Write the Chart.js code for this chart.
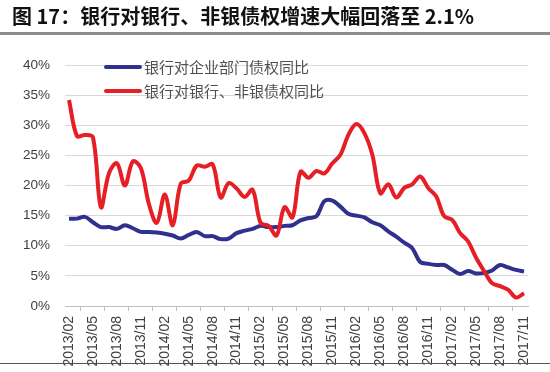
<!DOCTYPE html>
<html>
<head>
<meta charset="utf-8">
<script src="https://cdn.jsdelivr.net/npm/chart.js@4.4.1/dist/chart.umd.min.js"></script>
<style>
    body { margin: 0; background: #fff; }
    #wrap { position: relative; width: 550px; height: 372px; overflow: hidden; }
    #title {
        position: absolute; left: 12px; top: 6px;
        font: bold 20px "Noto Sans CJK SC", sans-serif; line-height: 20px;
        color: #111; white-space: nowrap;
    }
    #rule { position: absolute; left: 0; top: 32px; width: 550px; height: 3px; background: #8c8c8c; }
    #foot { position: absolute; left: 0; top: 363px; width: 550px; height: 1px; background: #555; }
    canvas { position: absolute; left: 0; top: 0; }
</style>
</head>
<body>
<div id="wrap">
    <canvas id="chart" width="550" height="372"></canvas>
    <div id="title">图 17：银行对银行、非银债权增速大幅回落至 2.1%</div>
    <div id="rule"></div>
    <div id="foot"></div>
</div>
<script>
// monthly, 2013/02 .. 2017/11
const months = [
    '2013/02', '2013/03', '2013/04', '2013/05', '2013/06', '2013/07', '2013/08', '2013/09', '2013/10', '2013/11', '2013/12',
    '2014/01', '2014/02', '2014/03', '2014/04', '2014/05', '2014/06', '2014/07', '2014/08', '2014/09', '2014/10', '2014/11', '2014/12',
    '2015/01', '2015/02', '2015/03', '2015/04', '2015/05', '2015/06', '2015/07', '2015/08', '2015/09', '2015/10', '2015/11', '2015/12',
    '2016/01', '2016/02', '2016/03', '2016/04', '2016/05', '2016/06', '2016/07', '2016/08', '2016/09', '2016/10', '2016/11', '2016/12',
    '2017/01', '2017/02', '2017/03', '2017/04', '2017/05', '2017/06', '2017/07', '2017/08', '2017/09', '2017/10', '2017/11'
];

const seriesNames = ['银行对企业部门债权同比', '银行对银行、非银债权同比'];

const corporate = [
    14.5, 14.5, 14.8, 13.9, 13.1, 13.1, 12.8, 13.4, 12.9, 12.3, 12.3,
    12.2, 12.0, 11.7, 11.2, 11.8, 12.3, 11.6, 11.6, 11.1, 11.2, 12.1, 12.5,
    12.8, 13.3, 13.1, 13.1, 13.3, 13.4, 14.2, 14.6, 14.9, 17.4, 17.5, 16.5,
    15.3, 15.0, 14.7, 13.9, 13.4, 12.4, 11.5, 10.5, 9.6, 7.3, 7.0, 6.8,
    6.8, 6.0, 5.3, 5.8, 5.4, 5.5, 5.9, 6.8, 6.4, 6.0, 5.7
];

const interbank = [
    34.2, 28.2, 28.4, 28.0, 16.4, 22.0, 23.7, 20.0, 24.0, 22.9, 17.0,
    13.8, 18.5, 13.4, 20.3, 20.8, 23.3, 23.1, 23.5, 18.0, 20.4, 19.5, 18.1,
    19.3, 13.8, 13.3, 11.7, 16.4, 14.7, 22.3, 21.3, 22.4, 22.0, 23.7, 25.1,
    28.4, 30.2, 28.7, 25.1, 18.7, 20.2, 18.0, 19.6, 20.2, 21.5, 19.6, 18.2,
    14.9, 14.3, 12.1, 10.7, 8.0, 5.8, 3.8, 3.3, 2.7, 1.4, 2.1
];

const yTicks = [0, 5, 10, 15, 20, 25, 30, 35, 40];

const colors = ['#30318f', '#e61e25'];

Chart.defaults.font.family = "'Liberation Sans', Arial, sans-serif";
Chart.defaults.font.size = 13;
Chart.defaults.color = '#404040';

// legend sits inside the plot, top left
const insideLegend = {
    id: 'insideLegend',
    afterDraw(chart) {
        const ctx = chart.ctx;
        ctx.save();
        chart.data.datasets.forEach((ds, i) => {
            const y = 67 + i * 24;
            ctx.strokeStyle = ds.borderColor;
            ctx.lineWidth = 4;
            ctx.lineCap = 'round';
            ctx.beginPath();
            ctx.moveTo(106, y);
            ctx.lineTo(140, y);
            ctx.stroke();
            ctx.fillStyle = '#505050';
            ctx.font = "15px 'Noto Sans CJK SC', sans-serif";
            ctx.textBaseline = 'middle';
            ctx.fillText(ds.label, 144, y);
        });
        ctx.restore();
    }
};

new Chart(document.getElementById('chart'), {
    type: 'line',
    data: {
        labels: months,
        datasets: [
            {
                label: seriesNames[0],
                data: corporate,
                borderColor: colors[0],
                borderWidth: 4,
                pointRadius: 0,
                tension: 0.35,
                order: 1
            },
            {
                label: seriesNames[1],
                data: interbank,
                borderColor: colors[1],
                borderWidth: 4,
                pointRadius: 0,
                tension: 0.35,
                order: 0
            }
        ]
    },
    options: {
        responsive: false,
        animation: false,
        layout: { padding: { top: 65, right: 22, bottom: 0, left: 0 } },
        plugins: {
            legend: { display: false },
            title: { display: false },
            tooltip: { enabled: false }
        },
        scales: {
            x: {
                offset: true,
                afterFit: (scale) => { scale.height = 66; },
                grid: { offset: true, drawOnChartArea: false, tickLength: 5, color: '#bfbfbf' },
                border: { color: '#bfbfbf' },
                ticks: {
                    autoSkip: false,
                    minRotation: 90,
                    maxRotation: 90,
                    padding: 5,
                    font: { size: 14 },
                    callback: (v, i) => (i % 3 === 0 ? months[i] : null)
                }
            },
            y: {
                min: yTicks[0],
                max: yTicks[yTicks.length - 1],
                afterFit: (scale) => { scale.width = 65; },
                afterBuildTicks: (scale) => { scale.ticks = yTicks.map(v => ({ value: v })); },
                grid: { color: '#d9d9d9', drawTicks: false },
                border: { display: false },
                ticks: {
                    padding: 15,
                    font: { size: 13.5 },
                    callback: (v) => v + '%'
                }
            }
        }
    },
    plugins: [insideLegend]
});
</script>
</body>
</html>
